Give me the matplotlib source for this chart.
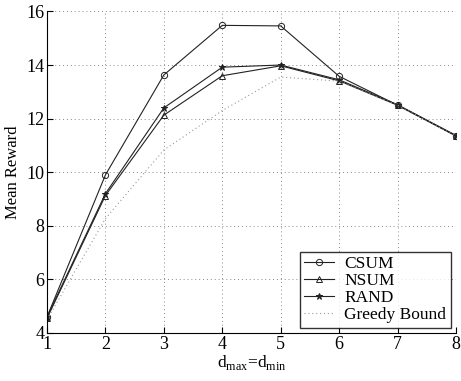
import numpy as np
import matplotlib
matplotlib.use('Agg')
import matplotlib.pyplot as plt

plt.rcParams['font.family'] = 'Liberation Serif'
plt.rcParams['mathtext.fontset'] = 'custom'
plt.rcParams['mathtext.rm'] = 'Liberation Serif'

# mean reward against d_max = d_min
d = [1, 2, 3, 4, 5, 6, 7, 8]
csum = [4.6, 9.9, 13.63, 15.48, 15.46, 13.58, 12.5, 11.37]
nsum = [4.55, 9.13, 12.13, 13.6, 13.97, 13.41, 12.5, 11.35]
rand = [4.6, 9.2, 12.4, 13.92, 14.0, 13.45, 12.52, 11.37]
greedy = [4.5, 8.27, 10.83, 12.3, 13.55, 13.4, 12.5, 11.35]

fig = plt.figure(figsize=(4.61, 3.81), dpi=100)
ax = fig.add_axes([0.102, 0.126, 0.887, 0.844])

ax.plot(d, csum, color='#222222', lw=0.8, marker='o', ms=4.5, mfc='none', mew=0.7, label='CSUM')
ax.plot(d, nsum, color='#222222', lw=0.8, marker='^', ms=4.5, mfc='none', mew=0.7, label='NSUM')
ax.plot(d, rand, color='#222222', lw=0.8, marker='*', ms=4.5, mew=0.7, label='RAND')
ax.plot(d, greedy, color='#999999', lw=0.8, ls=(0, (1, 2.5)), label='Greedy Bound')

ax.set_xlim(1, 8)
ax.set_ylim(4, 16)
ax.set_xticks(range(1, 9))
ax.set_yticks(range(4, 17, 2))
ax.grid(True, ls=(0, (1, 3)), color='#888888', lw=0.7)
ax.spines['top'].set_visible(False)
ax.spines['right'].set_visible(False)
ax.tick_params(direction='in', length=4, labelsize=13, pad=2)

ax.set_xlabel(r'd$_{\mathrm{max}}$=d$_{\mathrm{min}}$', fontsize=12.5, labelpad=0)
ax.set_ylabel('Mean Reward', fontsize=12, labelpad=4)

leg = ax.legend(loc='lower right', fontsize=12.5, frameon=True, fancybox=False,
                edgecolor='black', borderpad=0.25, labelspacing=0.05,
                handlelength=1.7, handletextpad=0.6, borderaxespad=0.3)
leg.get_frame().set_linewidth(1.0)

fig.savefig('out.png', dpi=100)
